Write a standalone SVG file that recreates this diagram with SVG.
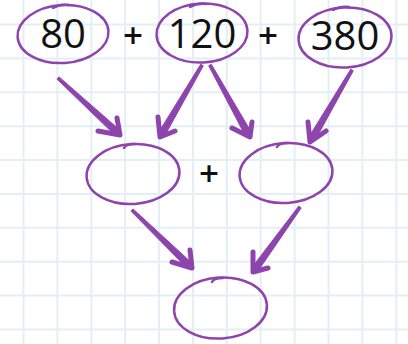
<svg xmlns="http://www.w3.org/2000/svg" width="408" height="344" viewBox="0 0 408 344">
<style>
.grid line{stroke:#e3eff4;stroke-width:2}
.ring{fill:none;stroke:#8e44ad;stroke-width:2.5;stroke-linecap:round}
.num{font-family:"Open Sans","Liberation Sans",sans-serif;font-size:40px;fill:#111;text-anchor:middle}
.op{font-family:"Open Sans","Liberation Sans",sans-serif;font-size:35px;font-weight:600;fill:#111;text-anchor:middle}
.shaft{fill:#8e44ad;stroke:#8e44ad;stroke-width:1;stroke-linejoin:round}
.head{fill:none;stroke:#8e44ad;stroke-width:5;stroke-linecap:round;stroke-linejoin:round}
</style>
<rect width="408" height="344" fill="#fff"/>
<g class="grid">
<line x1="23.5" y1="0" x2="23.5" y2="344"/><line x1="57.4" y1="0" x2="57.4" y2="344"/><line x1="91.3" y1="0" x2="91.3" y2="344"/><line x1="125.2" y1="0" x2="125.2" y2="344"/><line x1="159" y1="0" x2="159" y2="344"/><line x1="193" y1="0" x2="193" y2="344"/><line x1="226.8" y1="0" x2="226.8" y2="344"/><line x1="260.7" y1="0" x2="260.7" y2="344"/><line x1="294.6" y1="0" x2="294.6" y2="344"/><line x1="328.5" y1="0" x2="328.5" y2="344"/><line x1="362.4" y1="0" x2="362.4" y2="344"/><line x1="396.3" y1="0" x2="396.3" y2="344"/>
<line x1="0" y1="24.5" x2="408" y2="24.5"/><line x1="0" y1="58.4" x2="408" y2="58.4"/><line x1="0" y1="92.3" x2="408" y2="92.3"/><line x1="0" y1="126.2" x2="408" y2="126.2"/><line x1="0" y1="160" x2="408" y2="160"/><line x1="0" y1="193.9" x2="408" y2="193.9"/><line x1="0" y1="227.8" x2="408" y2="227.8"/><line x1="0" y1="261.7" x2="408" y2="261.7"/><line x1="0" y1="295.6" x2="408" y2="295.6"/><line x1="0" y1="329.5" x2="408" y2="329.5"/>
</g>
<g id="n80">
<ellipse class="ring" cx="63" cy="34" rx="45.5" ry="29" transform="rotate(-4 63 34)"/>
<path class="ring" d="M53,8 Q60,4 69,5"/>
<text class="num" x="63" y="48">80</text>
</g>
<g id="plus1"><text class="op" x="133" y="47.5">+</text></g>
<g id="n120">
<ellipse class="ring" cx="202" cy="33" rx="45.5" ry="29.5" transform="rotate(-3 202 33)"/>
<path class="ring" d="M190,7 Q197,3 206,4"/>
<text class="num" x="202" y="48">120</text>
</g>
<g id="plus2"><text class="op" x="268" y="47.5">+</text></g>
<g id="n380">
<ellipse class="ring" cx="345" cy="37.5" rx="46.5" ry="30" transform="rotate(-3 345 37.5)"/>
<path class="ring" d="M333,10 Q340,6 349,7"/>
<text class="num" x="345" y="50">380</text>
</g>
<g id="midL">
<ellipse class="ring" cx="133" cy="174" rx="46.5" ry="30" transform="rotate(-4 133 174)"/>
<path class="ring" d="M124,148 Q126,144 135,144"/>
</g>
<g id="plus3"><text class="op" x="209" y="185.5">+</text></g>
<g id="midR">
<ellipse class="ring" cx="286" cy="173" rx="46.5" ry="30" transform="rotate(-4 286 173)"/>
<path class="ring" d="M277,147 Q279,143 288,143"/>
</g>
<g id="bottom">
<ellipse class="ring" cx="220.5" cy="308" rx="46.5" ry="30.5" transform="rotate(-4 220.5 308)"/>
<path class="ring" d="M212,282 Q214,278 223,278"/>
</g>
<g id="connectors">
<path class="shaft" d="M56.98,79.1 L115.43,135.58 L120.17,130.42 L59.02,76.9 Z"/>
<path class="head" d="M98,131 L120,135 L117,118"/>
<path class="shaft" d="M200.7,64.24 L158.49,132.65 L164.53,136.17 L203.3,65.76 Z"/>
<path class="head" d="M158,117 L160,137 L175,131"/>
<path class="shaft" d="M208.69,65.73 L245.48,136.08 L251.6,132.68 L211.31,64.27 Z"/>
<path class="head" d="M232,128 L250,137 L252,122"/>
<path class="shaft" d="M350.7,69.24 L308.49,137.65 L314.53,141.17 L353.3,70.76 Z"/>
<path class="head" d="M308,122 L310,142 L326,131"/>
<path class="shaft" d="M130.96,211.08 L187.41,268.43 L192.27,263.39 L133.04,208.92 Z"/>
<path class="head" d="M172,262 L192,268 L190,250"/>
<path class="shaft" d="M298.79,206.12 L251.93,267.52 L257.59,271.62 L301.21,207.88 Z"/>
<path class="head" d="M253,252 L253,272 L268,268"/>
</g>
</svg>
